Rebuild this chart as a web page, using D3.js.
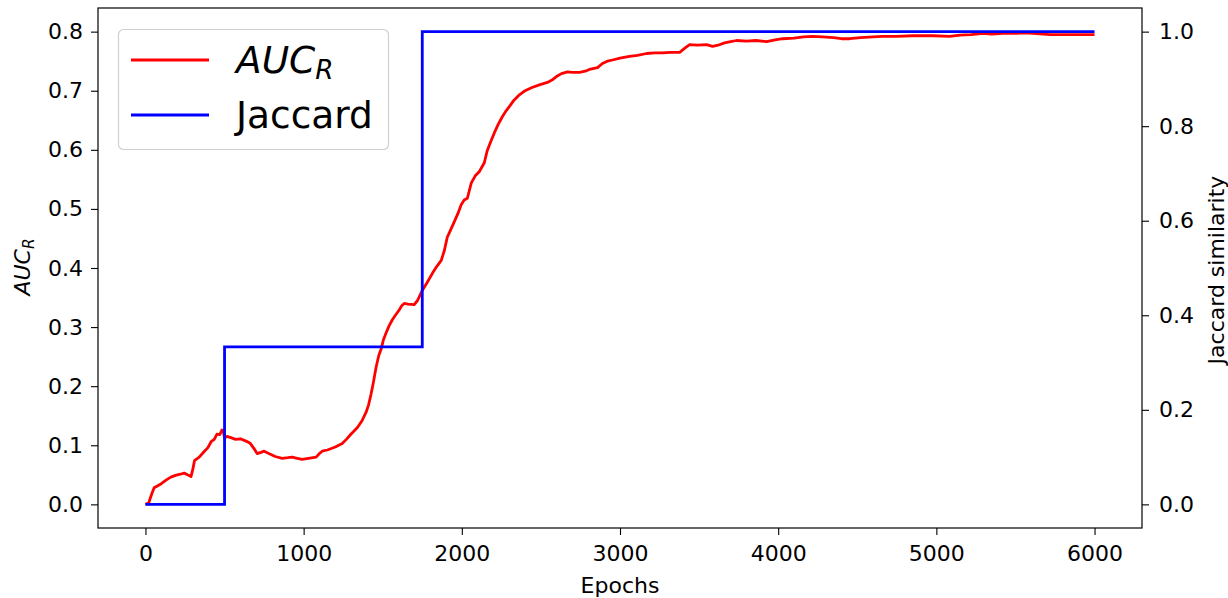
<!DOCTYPE html>
<html>
<head>
<meta charset="utf-8">
<script src="https://cdn.jsdelivr.net/npm/d3@7"></script>
<style>
  html, body { margin: 0; padding: 0; background: #fff; }
  svg text { font-family: "DejaVu Sans", sans-serif; fill: #000; }
</style>
</head>
<body>
<svg id="chart" width="1228" height="598"></svg>
<script>
// Training curve: AUC_R per epoch
const aucEpochs = [0, 20, 40, 55, 75, 100, 130, 160, 190, 220, 245, 265, 288, 300, 310, 340, 370, 395, 415, 435, 452, 470, 484, 492, 500, 515, 540, 570, 600, 636, 660, 690, 706, 730, 750, 780, 820, 864, 900, 927, 960, 990, 1030, 1079, 1100, 1117, 1150, 1200, 1244, 1270, 1300, 1340, 1370, 1395, 1410, 1425, 1440, 1458, 1475, 1490, 1505, 1521, 1540, 1560, 1580, 1604, 1620, 1636, 1660, 1699, 1720, 1750, 1780, 1814, 1840, 1870, 1890, 1908, 1930, 1952, 1975, 1996, 2015, 2035, 2060, 2085, 2110, 2142, 2160, 2180, 2206, 2230, 2256, 2280, 2300, 2330, 2364, 2400, 2440, 2490, 2541, 2570, 2598, 2630, 2668, 2700, 2744, 2780, 2807, 2858, 2889, 2920, 2953, 3000, 3060, 3110, 3168, 3220, 3269, 3320, 3377, 3410, 3440, 3490, 3547, 3585, 3620, 3661, 3700, 3737, 3800, 3860, 3927, 3980, 4028, 4100, 4160, 4218, 4280, 4350, 4400, 4452, 4520, 4600, 4661, 4750, 4850, 4978, 5085, 5150, 5220, 5294, 5350, 5420, 5509, 5560, 5610, 5718, 5800, 5900, 6000];
const aucValues = [0.000, 0.002, 0.018, 0.028, 0.031, 0.035, 0.041, 0.046, 0.049, 0.051, 0.053, 0.050, 0.047, 0.060, 0.074, 0.080, 0.089, 0.096, 0.106, 0.110, 0.119, 0.118, 0.126, 0.124, 0.112, 0.115, 0.113, 0.110, 0.111, 0.107, 0.104, 0.093, 0.086, 0.088, 0.090, 0.086, 0.081, 0.078, 0.079, 0.080, 0.078, 0.076, 0.078, 0.080, 0.086, 0.090, 0.092, 0.097, 0.103, 0.110, 0.119, 0.130, 0.142, 0.156, 0.168, 0.185, 0.205, 0.232, 0.252, 0.263, 0.279, 0.290, 0.302, 0.312, 0.320, 0.329, 0.336, 0.340, 0.339, 0.338, 0.345, 0.362, 0.375, 0.391, 0.402, 0.413, 0.430, 0.452, 0.465, 0.478, 0.492, 0.507, 0.515, 0.518, 0.544, 0.556, 0.563, 0.578, 0.598, 0.612, 0.629, 0.643, 0.656, 0.666, 0.673, 0.684, 0.693, 0.700, 0.705, 0.710, 0.714, 0.718, 0.724, 0.729, 0.732, 0.731, 0.731, 0.733, 0.736, 0.739, 0.746, 0.750, 0.752, 0.755, 0.758, 0.760, 0.763, 0.764, 0.764, 0.765, 0.765, 0.772, 0.778, 0.777, 0.778, 0.775, 0.777, 0.781, 0.783, 0.785, 0.784, 0.785, 0.783, 0.786, 0.788, 0.789, 0.791, 0.792, 0.791, 0.790, 0.788, 0.788, 0.790, 0.791, 0.792, 0.792, 0.793, 0.793, 0.792, 0.794, 0.795, 0.797, 0.796, 0.797, 0.797, 0.798, 0.797, 0.795, 0.795, 0.795, 0.795];

// Jaccard similarity of the selected set, changes in steps
const jaccardEpochs = [0, 500, 1750, 6000];
const jaccardValues = [0, 1 / 3, 1, 1];

// Tick values
const xTicks = [0, 1000, 2000, 3000, 4000, 5000, 6000];
const leftTicks = [0.0, 0.1, 0.2, 0.3, 0.4, 0.5, 0.6, 0.7, 0.8];
const rightTicks = [0.0, 0.2, 0.4, 0.6, 0.8, 1.0];

const svg = d3.select("#chart");
const plot = { left: 98, right: 1142, top: 8, bottom: 528 };

const x = d3.scaleLinear().domain([-300, 6300]).range([plot.left, plot.right]);
const yL = d3.scaleLinear().domain([-0.04, 0.84]).range([plot.bottom, plot.top]);
const yR = d3.scaleLinear().domain([-0.05, 1.05]).range([plot.bottom, plot.top]);

const FONT = 22;

// Clip for the lines
svg.append("defs").append("clipPath").attr("id", "plotclip")
  .append("rect").attr("x", plot.left).attr("y", plot.top)
  .attr("width", plot.right - plot.left).attr("height", plot.bottom - plot.top);

// AUC_R line
const aucData = aucEpochs.map((e, i) => [e, aucValues[i]]);
svg.append("path")
  .datum(aucData)
  .attr("clip-path", "url(#plotclip)")
  .attr("fill", "none")
  .attr("stroke", "#ff0000")
  .attr("stroke-width", 2.8)
  .attr("stroke-linejoin", "round")
  .attr("d", d3.line().x(d => x(d[0])).y(d => yL(d[1])));

// Jaccard step line
const jacData = jaccardEpochs.map((e, i) => [e, jaccardValues[i]]);
svg.append("path")
  .datum(jacData)
  .attr("clip-path", "url(#plotclip)")
  .attr("fill", "none")
  .attr("stroke", "#0000ff")
  .attr("stroke-width", 2.8)
  .attr("d", d3.line().curve(d3.curveStepAfter).x(d => x(d[0])).y(d => yR(d[1])));

// Axes
function styleAxis(g) {
  g.selectAll(".domain").remove();
  g.selectAll(".tick line").attr("stroke", "#000").attr("stroke-width", 1.1);
  g.selectAll(".tick text").style("font-size", FONT + "px").attr("fill", "#000");
}

const xAxis = svg.append("g")
  .attr("transform", `translate(0,${plot.bottom})`)
  .call(d3.axisBottom(x).tickValues(xTicks).tickFormat(d3.format("d")).tickSizeOuter(0).tickSize(7).tickPadding(10));
styleAxis(xAxis);

const leftAxis = svg.append("g")
  .attr("transform", `translate(${plot.left},0)`)
  .call(d3.axisLeft(yL).tickValues(leftTicks).tickFormat(d3.format(".1f")).tickSizeOuter(0).tickSize(7).tickPadding(8));
styleAxis(leftAxis);

const rightAxis = svg.append("g")
  .attr("transform", `translate(${plot.right},0)`)
  .call(d3.axisRight(yR).tickValues(rightTicks).tickFormat(d3.format(".1f")).tickSizeOuter(0).tickSize(7).tickPadding(10));
styleAxis(rightAxis);

// Frame
svg.append("rect")
  .attr("x", plot.left).attr("y", plot.top)
  .attr("width", plot.right - plot.left).attr("height", plot.bottom - plot.top)
  .attr("fill", "none").attr("stroke", "#000").attr("stroke-width", 1.2);

// Axis labels
svg.append("text")
  .attr("x", (plot.left + plot.right) / 2).attr("y", 593)
  .attr("text-anchor", "middle")
  .style("font-size", FONT + "px")
  .text("Epochs");

const yLabel = svg.append("text")
  .attr("transform", "translate(30,267) rotate(-90)")
  .attr("text-anchor", "middle")
  .style("font-size", FONT + "px");
yLabel.append("tspan").style("font-style", "italic").text("AUC");
yLabel.append("tspan").style("font-style", "italic").style("font-size", (FONT * 0.7) + "px")
  .attr("dy", 4).text("R");

svg.append("text")
  .attr("transform", "translate(1224,270) rotate(-90)")
  .attr("text-anchor", "middle")
  .style("font-size", FONT + "px")
  .text("Jaccard similarity");

// Legend
const legend = svg.append("g");
legend.append("rect")
  .attr("x", 118.5).attr("y", 29.5).attr("width", 270).attr("height", 120)
  .attr("rx", 5).attr("ry", 5)
  .attr("fill", "#fff").attr("fill-opacity", 0.8)
  .attr("stroke", "#d0d0d0").attr("stroke-width", 1.2);

const LEG_FONT = 37.5;
const legendItems = [
  { color: "#ff0000", y: 60, label: "auc" },
  { color: "#0000ff", y: 115, label: "Jaccard" }
];
legendItems.forEach(item => {
  legend.append("line")
    .attr("x1", 131).attr("x2", 209).attr("y1", item.y).attr("y2", item.y)
    .attr("stroke", item.color).attr("stroke-width", 2.8);
  const t = legend.append("text")
    .attr("x", 236).attr("y", item.y + 13)
    .style("font-size", LEG_FONT + "px");
  if (item.label === "auc") {
    t.append("tspan").style("font-style", "italic").text("AUC");
    t.append("tspan").style("font-style", "italic").style("font-size", (LEG_FONT * 0.7) + "px")
      .attr("dy", 6).text("R");
  } else {
    t.text(item.label);
  }
});
</script>
</body>
</html>
